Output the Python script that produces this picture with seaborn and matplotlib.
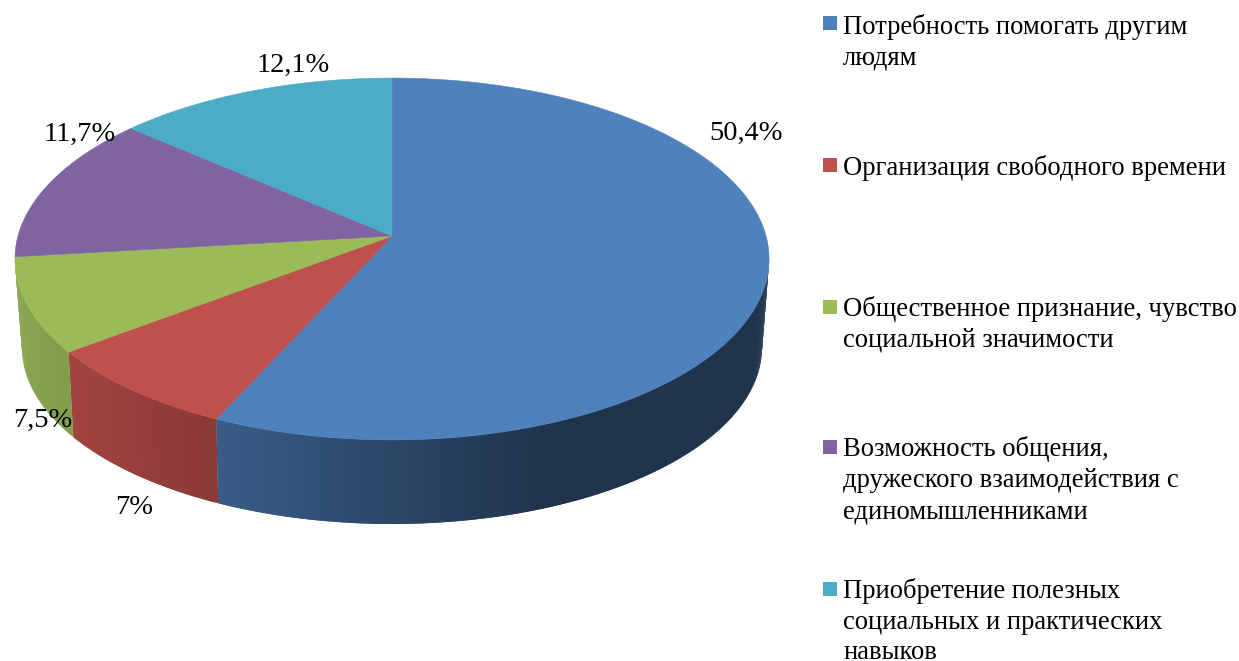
import numpy as np
import matplotlib
matplotlib.use("Agg")
import matplotlib.pyplot as plt
import seaborn as sns

# Data
categories = [
    ["Потребность помогать другим", "людям"],
    ["Организация свободного времени"],
    ["Общественное признание, чувство", "социальной значимости"],
    ["Возможность общения,", "дружеского взаимодействия с", "единомышленниками"],
    ["Приобретение полезных", "социальных и практических", "навыков"],
]
values = [50.4, 7, 7.5, 11.7, 12.1]
value_labels = ["50,4%", "7%", "7,5%", "11,7%", "12,1%"]
colors = ["#4f81bd", "#c0504d", "#9bbb59", "#8064a2", "#4bacc6"]

# Layout in pixels
label_xy = [(746, 133), (134, 507), (43, 420), (80, 134), (293, 65)]
legend_key_y = [16, 158, 300, 440, 582]
legend_baselines = [[34, 64], [175], [316, 346], [456, 487, 518], [598, 629, 659]]

# Pie geometry: a tilted disc with a little perspective
center_x = 392
top_rim = dict(y0=236, rx=374, ry=178, persp=0.127)
bottom_rim = dict(y0=323.5, rx=366.6, ry=173.4, persp=0.135)
wall_shade_x = [15, 70, 217, 540, 770]
wall_shade = [0.88, 0.84, 0.72, 0.41, 0.41]


def rim(angles, y0, rx, ry, persp):
    """Angles in degrees, clockwise from the top"""
    t = np.radians(angles)
    u, v = np.sin(t), -np.cos(t)
    den = 1 - persp * v
    return center_x + rx * u / den, y0 + ry * v / den


sns.set_theme(style="white")
plt.rcParams["font.family"] = ["Liberation Serif", "DejaVu Serif"]
palette = sns.color_palette(colors)

fig = plt.figure(figsize=(12.39, 6.61), dpi=100)
ax = fig.add_axes([0, 0, 1, 1])
ax.set_xlim(0, 1239)
ax.set_ylim(661, 0)
ax.axis("off")

bounds = np.concatenate([[0], np.cumsum(values)]) / sum(values) * 360
wall_start = np.degrees(np.arccos(-top_rim["persp"]))
wall_end = 360 - wall_start

# Side walls first, as strips that overlap the next one so no seams show
for i, base in enumerate(palette):
    a0, a1 = max(bounds[i], wall_start), min(bounds[i + 1], wall_end)
    if a1 <= a0:
        continue
    angles = np.linspace(a0, a1, int((a1 - a0) * 2) + 2)
    tx, ty = rim(angles, **top_rim)
    bx, by = rim(angles, **bottom_rim)
    for j in range(len(angles) - 1):
        k = min(j + 2, len(angles) - 1)
        f = np.interp(tx[j], wall_shade_x, wall_shade)
        c = tuple(np.array(base) * f)
        ax.fill([tx[j], tx[k], bx[k], bx[j]],
                [ty[j], ty[k], by[k], by[j]],
                facecolor=c, edgecolor="none", lw=0, zorder=2)

# Top faces
for i, base in enumerate(palette):
    angles = np.linspace(bounds[i], bounds[i + 1], 200)
    x, y = rim(angles, **top_rim)
    ax.fill(np.r_[center_x, x], np.r_[top_rim["y0"], y],
            facecolor=base, edgecolor=base, lw=0.4, zorder=3)

# Data labels
for (x, y), text in zip(label_xy, value_labels):
    ax.text(x, y, text, ha="center", va="center", fontsize=20.5, color="black", zorder=5)

# Legend
for i, lines in enumerate(categories):
    ax.fill([823, 837, 837, 823],
            [legend_key_y[i], legend_key_y[i], legend_key_y[i] + 14, legend_key_y[i] + 14],
            facecolor=palette[i], edgecolor="none", zorder=5)
    for line, base_y in zip(lines, legend_baselines[i]):
        ax.text(843, base_y, line, ha="left", va="baseline", fontsize=19.2,
                color="black", zorder=5)

plt.savefig("out.png", dpi=100, facecolor="white")
plt.close()
